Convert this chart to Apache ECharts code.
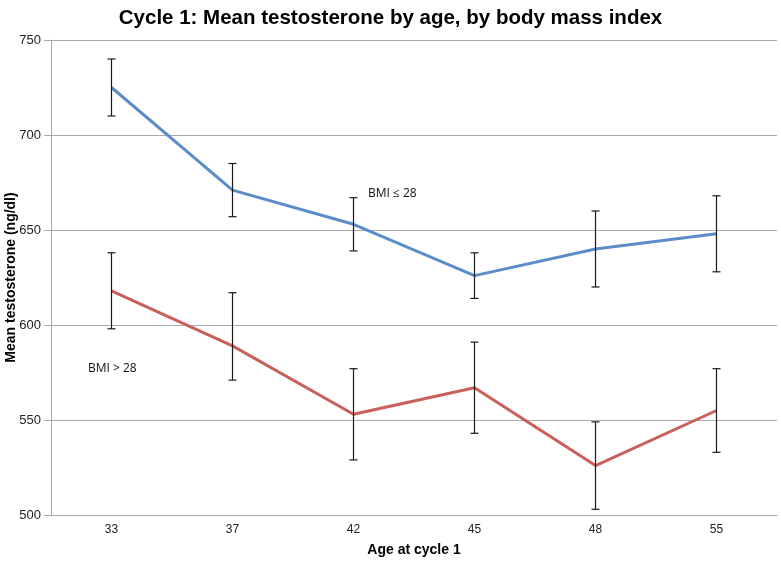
<!DOCTYPE html>
<html><head><meta charset="utf-8">
<script src="https://cdn.jsdelivr.net/npm/echarts@6/dist/echarts.min.js"></script>
<style>html,body{margin:0;padding:0;background:#fff}#c{width:781px;height:561px}</style>
</head><body><div id="c"></div>
<script>
const categories = ['33','37','42','45','48','55'];
const lowBmi = [725, 671, 653, 626, 640, 648];
const lowBmiHigh = [740, 685, 667, 638, 660, 668];
const lowBmiLow = [710, 657, 639, 614, 620, 628];
const highBmi = [618, 589, 553, 567, 526, 555];
const highBmiHigh = [638, 617, 577, 591, 549, 577];
const highBmiLow = [598, 571, 529, 543, 503, 533];

const chart = echarts.init(document.getElementById('c'));
function errSeries(hi, lo) {
  return {
    type: 'custom',
    data: categories.map((c, i) => [i, lo[i], hi[i]]),
    z: 5,
    renderItem: function (params, api) {
      const x = api.value(0);
      const p1 = api.coord([x, api.value(1)]);
      const p2 = api.coord([x, api.value(2)]);
      const w = 4;
      const st = { stroke: '#1a1a1a', lineWidth: 1.2 };
      return { type: 'group', children: [
        { type: 'line', shape: { x1: p1[0], y1: p1[1], x2: p2[0], y2: p2[1] }, style: st },
        { type: 'line', shape: { x1: p1[0]-w, y1: p1[1], x2: p1[0]+w, y2: p1[1] }, style: st },
        { type: 'line', shape: { x1: p2[0]-w, y1: p2[1], x2: p2[0]+w, y2: p2[1] }, style: st }
      ]};
    }
  };
}
chart.setOption({
  animation: false,
  title: { text: 'Cycle 1: Mean testosterone by age, by body mass index', left: 'center', top: 3,
    textStyle: { fontFamily: 'Liberation Sans', fontSize: 20.5, fontWeight: 'bold', color: '#000' } },
  grid: { left: 51, right: 4, top: 40, bottom: 46, containLabel: false, outerBoundsMode: 'none' },
  xAxis: { type: 'category', data: categories, boundaryGap: true,
    name: 'Age at cycle 1', nameLocation: 'middle', nameGap: 28, nameMoveOverlap: false,
    nameTextStyle: { fontFamily: 'Liberation Sans', fontSize: 14, fontWeight: 'bold', color: '#000' },
    axisLine: { lineStyle: { color: '#aaa' } }, axisTick: { show: false },
    axisLabel: { fontFamily: 'Liberation Sans', fontSize: 12, color: '#222', margin: 9 } },
  yAxis: { type: 'value', min: 500, max: 750, interval: 50,
    name: 'Mean testosterone (ng/dl)', nameLocation: 'middle', nameGap: 33, nameMoveOverlap: false,
    nameTextStyle: { fontFamily: 'Liberation Sans', fontSize: 14, fontWeight: 'bold', color: '#000' },
    axisLine: { show: true, lineStyle: { color: '#aaa' } }, axisTick: { show: true, length: 7, lineStyle: { color: '#aaa' } },
    splitLine: { lineStyle: { color: '#aaa' } },
    axisLabel: { fontFamily: 'Liberation Sans', fontSize: 13, color: '#222', margin: 10 } },
  series: [
    { type: 'line', data: lowBmi, symbol: 'none', lineStyle: { color: '#5b8ec8', width: 3 }, z: 3 },
    { type: 'line', data: highBmi, symbol: 'none', lineStyle: { color: '#c9605a', width: 3 }, z: 3 },
    errSeries(lowBmiHigh, lowBmiLow),
    errSeries(highBmiHigh, highBmiLow)
  ],
  graphic: [
    { type: 'text', left: 368, top: 188, style: { text: 'BMI ≤ 28', font: '12px "Open Sans"', fill: '#111' } },
    { type: 'text', left: 88, top: 363, style: { text: 'BMI > 28', font: '12px "Open Sans"', fill: '#111' } }
  ]
});
</script></body></html>
